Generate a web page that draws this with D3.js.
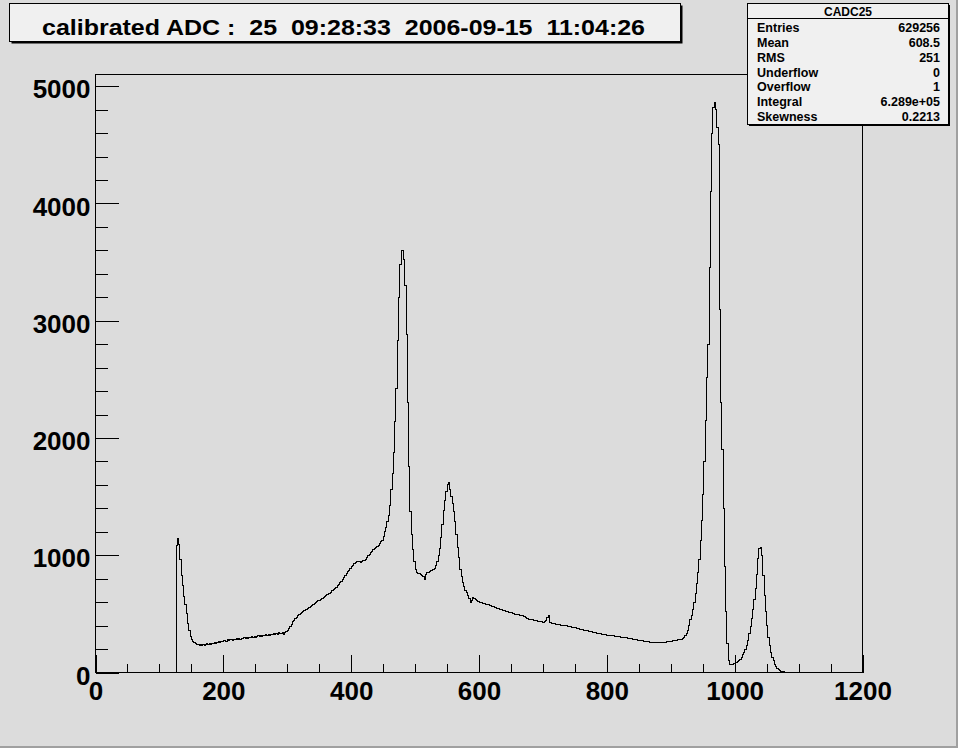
<!DOCTYPE html>
<html><head><meta charset="utf-8">
<script src="https://cdn.jsdelivr.net/npm/d3@7"></script>
<style>
html,body{margin:0;padding:0;background:#dcdcdc;overflow:hidden}
text{font-family:"Liberation Sans",Arial,Helvetica,sans-serif;font-weight:bold}
</style></head>
<body>
<svg id="c" width="958" height="748"></svg>
<script>
// ---- data ----
const binWidth = 2;
const xMin = 0, xMax = 1200;
const yMax = 5100;
const titleText = "calibrated ADC :  25  09:28:33  2006-09-15  11:04:26";
const statsName = "CADC25";
const statsLabels = ["Entries","Mean","RMS","Underflow","Overflow","Integral","Skewness"];
const statsValues = ["629256","608.5","251","0","1","6.289e+05","0.2213"];
const xMajorTicks = [0,200,400,600,800,1000,1200];
const yMajorTicks = [0,1000,2000,3000,4000,5000];
// counts per 2-unit bin, 0..1200 (600 bins), one row = 20 units
const counts = [
 0,0,0,0,0,0,0,0,0,0,                          // 0
 0,0,0,0,0,0,0,0,0,0,                          // 20
 0,0,0,0,0,0,0,0,0,0,                          // 40
 0,0,0,0,0,0,0,0,0,0,                          // 60
 0,0,0,0,0,0,0,0,0,0,                          // 80
 0,0,0,0,0,0,0,0,0,0,                          // 100
 0,0,0,1080,1140,1090,960,830,740,650,         // 120
 580,500,420,360,310,278,262,252,245,242,      // 140
 238,232,236,228,240,232,238,244,236,246,      // 160
 242,250,246,254,248,256,262,256,266,262,      // 180
 270,276,266,280,274,282,278,270,284,280,      // 200
 286,282,290,284,292,288,296,290,298,294,      // 220
 300,296,306,300,310,302,306,312,304,314,      // 240
 310,318,314,322,316,324,318,326,322,330,      // 260
 326,334,328,338,332,336,344,326,342,348,      // 280
 360,372,390,410,434,446,458,470,482,494,      // 300
 500,510,518,526,534,540,550,556,562,570,      // 320
 578,586,594,602,610,616,624,632,640,646,      // 340
 654,662,670,678,686,696,706,716,728,738,      // 360
 752,766,780,796,810,826,842,858,872,886,      // 380
 900,915,928,940,946,950,944,938,948,952,      // 400
 958,966,980,996,1010,1024,1036,1046,1056,1064,// 420
 1074,1086,1100,1116,1130,1160,1200,1240,1285,1340, // 440
 1420,1560,1700,1880,2140,2420,2830,3200,3480,3600, // 460
 3600,3520,3300,2880,2300,1760,1370,1180,1050,950,  // 480
 880,850,846,842,838,830,820,790,840,850,      // 500
 856,862,868,874,880,888,910,950,1000,1060,    // 520
 1150,1260,1380,1470,1540,1600,1620,1560,1500,1440, // 540
 1370,1290,1180,1070,980,880,820,770,730,700,  // 560
 680,660,630,600,610,640,630,620,610,604,      // 580
 600,598,594,590,588,584,580,576,572,568,      // 600
 564,560,556,552,548,544,540,536,532,530,      // 620
 526,522,518,514,510,508,504,500,498,496,      // 640
 494,492,490,488,484,478,470,464,460,456,      // 660
 454,450,448,446,444,440,438,436,434,432,      // 680
 430,432,440,470,490,430,424,420,416,414,      // 700
 412,410,408,406,404,402,400,398,397,396,      // 720
 392,390,388,385,382,380,378,376,374,370,      // 740
 367,364,362,359,357,355,352,349,346,343,      // 760
 341,339,336,334,331,329,327,325,322,320,      // 780
 319,318,316,315,313,312,311,309,307,305,      // 800
 304,302,301,299,297,295,293,291,289,287,      // 820
 285,283,281,279,277,275,273,271,269,267,      // 840
 265,263,262,260,258,257,256,255,254,255,      // 860
 255,254,253,254,256,258,260,262,264,266,      // 880
 268,270,272,274,276,278,280,282,284,290,      // 900
 300,314,332,360,400,450,490,540,600,670,      // 920
 760,850,960,1130,1300,1520,1800,2150,2520,2800, // 940
 3450,4100,4600,4820,4860,4800,4650,4500,3100,2300, // 960
 1900,1400,900,520,250,100,70,68,72,76,        // 980
 80,86,92,100,110,130,150,172,196,230,         // 1000
 270,330,390,460,540,620,720,840,970,1060,     // 1020
 1070,1000,830,660,520,400,300,230,170,130,    // 1040
 100,70,50,36,26,18,12,8,5,4,                  // 1060
 3,2,2,1,2,1,0,1,2,1,                          // 1080
 1,0,1,2,0,1,0,0,1,0,                          // 1100
 0,1,0,0,1,0,0,0,1,0,                          // 1120
 0,0,1,0,0,0,0,1,0,0,                          // 1140
 0,0,0,1,0,0,0,0,0,0,                          // 1160
 0,0,0,0,0,0,0,0,0,0                           // 1180
];

// ---- layout ----
const W = 958, H = 748;
const svg = d3.select("#c");
const frame = {l:95.5, r:862.5, t:74.5, b:672.5};

svg.append("rect").attr("x",0).attr("y",0).attr("width",W).attr("height",H).attr("fill","#dcdcdc");
// canvas bevel
svg.append("rect").attr("x",W-2).attr("y",0).attr("width",2).attr("height",H).attr("fill","#a0a0a0");
svg.append("rect").attr("x",0).attr("y",H-2).attr("width",W).attr("height",2).attr("fill","#a0a0a0");

const x = d3.scaleLinear().domain([xMin,xMax]).range([frame.l, frame.r]);
const y = d3.scaleLinear().domain([0,yMax]).range([frame.b, frame.t]);

// frame
svg.append("rect").attr("x",frame.l).attr("y",frame.t)
  .attr("width",frame.r-frame.l).attr("height",frame.b-frame.t)
  .attr("fill","#dcdcdc").attr("stroke","#000").attr("stroke-width",1)
  .attr("shape-rendering","crispEdges");

// histogram
const pts = counts.map((c,i)=>[xMin+i*binWidth, c]);
pts.push([xMax, counts[counts.length-1]]);
const line = d3.line().x(d=>x(d[0])).y(d=>y(d[1])).curve(d3.curveStepAfter);
svg.append("path").attr("d",line(pts)).attr("fill","none")
  .attr("stroke","#000").attr("stroke-width",1).attr("shape-rendering","crispEdges");

// x axis
const gx = svg.append("g").attr("transform",`translate(0,${frame.b})`);
gx.call(d3.axisBottom(x).tickValues(d3.range(xMin,xMax+1,50)).tickSize(-9).tickFormat(""));
const gx2 = svg.append("g").attr("transform",`translate(0,${frame.b})`);
gx2.call(d3.axisBottom(x).tickValues(xMajorTicks).tickSize(-18).tickPadding(9).tickFormat(d3.format("d")));
[gx,gx2].forEach(g=>{
  g.select(".domain").remove();
  g.selectAll("line").attr("stroke","#000").attr("shape-rendering","crispEdges");
});
gx2.selectAll("text").attr("font-size",26).attr("fill","#000")
  .style("font-family","'Liberation Sans',Arial,sans-serif").style("font-weight","bold");

// y axis
const gy = svg.append("g").attr("transform",`translate(${frame.l},0)`);
gy.call(d3.axisLeft(y).tickValues(d3.range(0,yMax+1,200)).tickSize(-12).tickFormat(""));
const gy2 = svg.append("g").attr("transform",`translate(${frame.l},0)`);
gy2.call(d3.axisLeft(y).tickValues(yMajorTicks).tickSize(-23).tickPadding(5).tickFormat(d3.format("d")));
[gy,gy2].forEach(g=>{
  g.select(".domain").remove();
  g.selectAll("line").attr("stroke","#000").attr("shape-rendering","crispEdges");
});
gy2.selectAll("text").attr("font-size",26).attr("fill","#000").attr("dy","0.45em")
  .style("font-family","'Liberation Sans',Arial,sans-serif").style("font-weight","bold");

// title box
const tb = {x:9.5, y:3.5, w:671, h:38};
svg.append("rect").attr("x",tb.x+2).attr("y",tb.y+2).attr("width",tb.w).attr("height",tb.h).attr("fill","#000");
svg.append("rect").attr("x",tb.x).attr("y",tb.y).attr("width",tb.w).attr("height",tb.h)
  .attr("fill","#f0f0f0").attr("stroke","#000").attr("stroke-width",1);
svg.append("text").attr("x",343.5).attr("y",35).attr("text-anchor","middle")
  .attr("font-size",22).attr("textLength",603).attr("lengthAdjust","spacingAndGlyphs")
  .attr("xml:space","preserve").style("white-space","pre").text(titleText);

// stats box
const sb = {x:747.5, y:3.5, w:201, h:121};
svg.append("rect").attr("x",sb.x+1.5).attr("y",sb.y+1.5).attr("width",sb.w).attr("height",sb.h).attr("fill","#000");
svg.append("rect").attr("x",sb.x).attr("y",sb.y).attr("width",sb.w).attr("height",sb.h)
  .attr("fill","#f0f0f0").attr("stroke","#000").attr("stroke-width",1);
svg.append("line").attr("x1",sb.x).attr("x2",sb.x+sb.w).attr("y1",18.5).attr("y2",18.5).attr("stroke","#000");
svg.append("text").attr("x",848).attr("y",16).attr("text-anchor","middle").attr("font-size",12).text(statsName);
const rowY = [31.5,46.5,61.5,76.5,90.5,105.5,121];
statsLabels.forEach((l,i)=>{
  svg.append("text").attr("x",757).attr("y",rowY[i]).attr("font-size",12.5).text(l);
  svg.append("text").attr("x",940).attr("y",rowY[i]).attr("text-anchor","end").attr("font-size",12.5).text(statsValues[i]);
});
</script>
</body></html>
